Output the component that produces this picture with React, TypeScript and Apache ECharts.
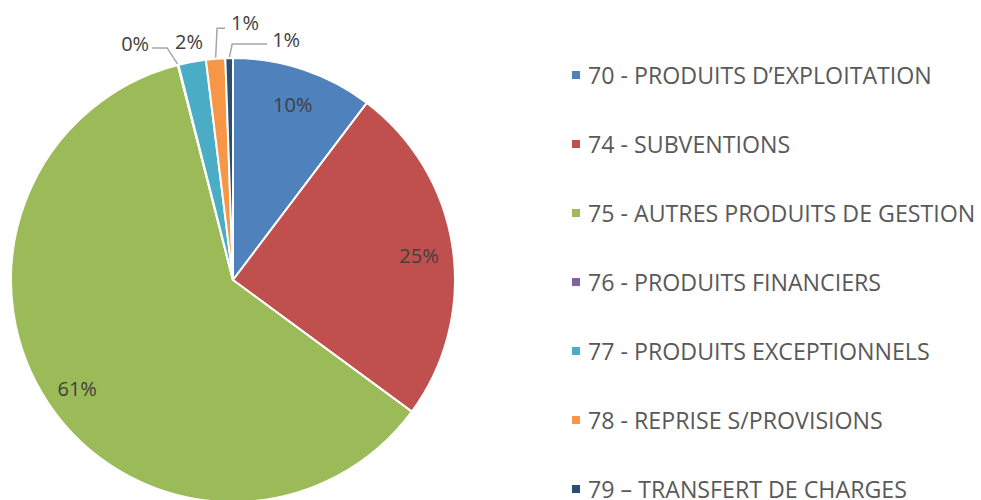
import React, { useEffect, useRef } from "react";
import * as echarts from "echarts";

const categories = [
  "70 - PRODUITS D’EXPLOITATION",
  "74 - SUBVENTIONS",
  "75 - AUTRES PRODUITS DE GESTION",
  "76 - PRODUITS FINANCIERS",
  "77 - PRODUITS EXCEPTIONNELS",
  "78 - REPRISE S/PROVISIONS",
  "79 – TRANSFERT DE CHARGES",
];
const values = [10.3, 24.8, 60.9, 0.05, 2.0, 1.4, 0.55];
const colors = ["#4F81BD", "#C0504D", "#9BBB59", "#8064A2", "#4BACC6", "#F79646", "#2C4D75"];
const insideLabelIdx = [0, 1, 2];

const FONT = "'Open Sans', sans-serif";

// leader-line shapes for the small outside labels, relative to the slice edge point
const leader: Record<number, { p1: number[]; p2: number[]; lbl: number[]; align: string; line: boolean }> = {
  3: { p1: [-11, -17], p2: [-15, 0], lbl: [-3, -4], align: "right", line: true },
  4: { p1: [0, 0], p2: [0, 0], lbl: [-3, -20], align: "center", line: false },
  5: { p1: [1.5, -30.5], p2: [8, 0], lbl: [6, -6], align: "left", line: true },
  6: { p1: [3, -14], p2: [35, 0], lbl: [5, -5], align: "left", line: true },
};

export default function App() {
  const ref = useRef<HTMLDivElement>(null);
  useEffect(() => {
    document.body.style.margin = "0";
    const chart = echarts.init(ref.current!, null, { renderer: "svg" });
    const fmt = (p: any) => Math.round(p.percent) + "%";
    const mainData = categories.map((name, i) => ({
      name,
      value: values[i],
      itemStyle: { color: colors[i] },
      label: { show: !insideLabelIdx.includes(i) },
      labelLine: { show: !insideLabelIdx.includes(i) && leader[i]?.line !== false },
    }));
    const labelData = categories.map((name, i) => ({
      name,
      value: values[i],
      label: { show: insideLabelIdx.includes(i) },
    }));
    chart.setOption({
      animation: false,
      color: colors,
      legend: {
        orient: "vertical",
        left: 570,
        top: 63.5,
        height: 440,
        padding: 0,
        itemWidth: 10,
        itemHeight: 10,
        itemGap: 46,
        icon: "rect",
        data: categories,
        textStyle: {
          fontFamily: FONT,
          fontSize: 23.2,
          lineHeight: 23,
          color: "#595959",
          padding: [0, 0, 0, 2],
        },
      },
      series: [
        {
          type: "pie",
          center: [233, 280],
          radius: 222,
          startAngle: 90,
          clockwise: true,
          avoidLabelOverlap: false,
          itemStyle: { borderColor: "#ffffff", borderWidth: 2 },
          label: {
            position: "outside",
            formatter: fmt,
            fontFamily: FONT,
            fontSize: 20,
            color: "#404040",
          },
          labelLine: {
            length: 12,
            length2: 12,
            smooth: false,
            lineStyle: { color: "#A6A6A6", width: 1.5 },
          },
          labelLayout: (params: any) => {
            const cfg = leader[params.dataIndex];
            const pts = params.labelLinePoints;
            if (!cfg || !pts) return {};
            const p0 = pts[0];
            const p1 = [p0[0] + cfg.p1[0], p0[1] + cfg.p1[1]];
            const p2 = [p1[0] + cfg.p2[0], p1[1] + cfg.p2[1]];
            const anchor = cfg.line ? p2 : p0;
            return {
              x: anchor[0] + cfg.lbl[0],
              y: anchor[1] + cfg.lbl[1],
              align: cfg.align,
              verticalAlign: "middle",
              labelLinePoints: [p0, p1, p2],
            };
          },
          emphasis: { disabled: true },
          data: mainData,
        },
        {
          type: "pie",
          center: [233, 280],
          radius: [148, 222],
          startAngle: 90,
          clockwise: true,
          silent: true,
          itemStyle: { color: "transparent", borderWidth: 0 },
          label: {
            position: "inside",
            formatter: fmt,
            fontFamily: FONT,
            fontSize: 20,
            color: "#404040",
          },
          labelLayout: () => ({ dy: 3 }),
          labelLine: { show: false },
          emphasis: { disabled: true },
          data: labelData,
        },
      ],
    });
    return () => chart.dispose();
  }, []);
  return (
    <div
      ref={ref}
      style={{ position: "absolute", left: 0, top: 0, width: 981, height: 500, background: "#fff" }}
    />
  );
}
